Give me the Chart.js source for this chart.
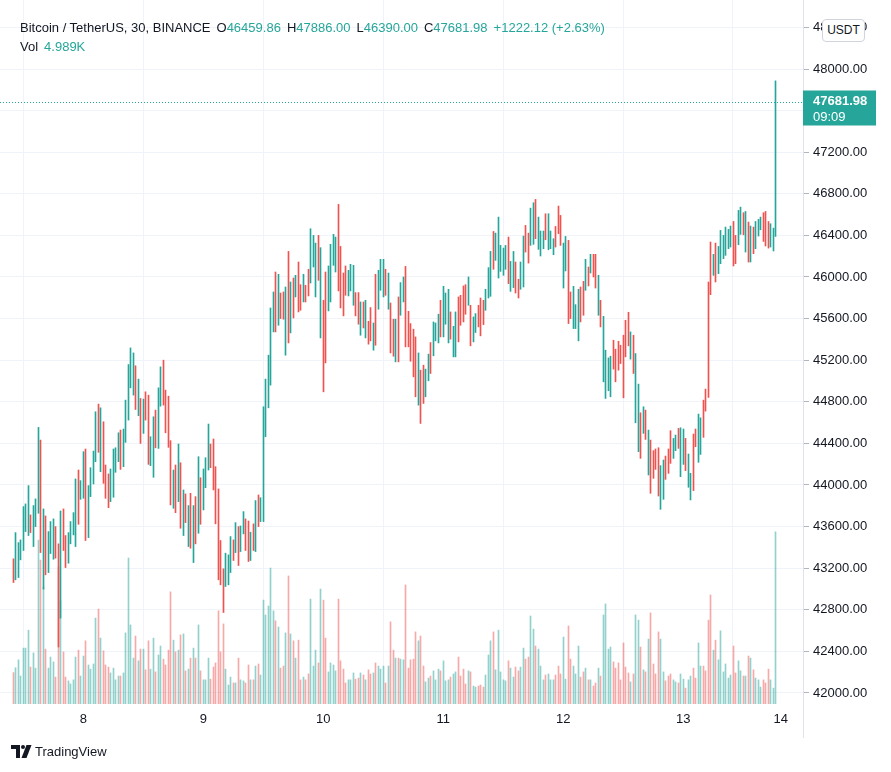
<!DOCTYPE html>
<html>
<head>
<meta charset="utf-8">
<script src="https://cdn.jsdelivr.net/npm/chart.js@4.4.0/dist/chart.umd.min.js"></script>
<style>
  html, body { margin: 0; padding: 0; background: #fff; }
  #wrap { position: relative; width: 891px; height: 772px; font-family: "Liberation Sans", Arial, sans-serif; color: #131722; overflow: hidden; }
  #chart { position: absolute; left: 0; top: 0; }
  .line { position: absolute; left: 20px; font-size: 13px; line-height: 16px; white-space: pre; }
  .up { color: #26a69a; }
  .gap { margin-left: 6px; }
  #usdt { position: absolute; left: 822px; top: 19px; width: 41px; height: 21px; border: 1px solid #d1d4dc; border-radius: 4px; background: #fff; font-size: 12px; line-height: 21px; text-align: center; }
  #brand { position: absolute; left: 35px; top: 744px; font-size: 13px; color: #131722; }
  #logo { position: absolute; left: 11px; top: 745px; }
</style>
</head>
<body>
<div id="wrap">
  <canvas id="chart" width="891" height="772"></canvas>
  <div class="line" style="top:20px">Bitcoin / TetherUS, 30, BINANCE<span class="gap">O</span><span class="up" id="vO"></span><span class="gap">H</span><span class="up" id="vH"></span><span class="gap">L</span><span class="up" id="vL"></span><span class="gap">C</span><span class="up" id="vC"></span><span class="up gap" id="vChg"></span></div>
  <div class="line" style="top:39px">Vol<span class="up gap" id="vVol"></span></div>
  <div id="usdt">USDT</div>
  <svg id="logo" width="22" height="14" viewBox="0 0 22 14">
    <path d="M0 0h9v13h-4v-9h-5z" fill="#131722"/>
    <circle cx="12" cy="2" r="2" fill="#131722"/>
    <path d="M15.5 0h5l-5 13h-5z" fill="#131722"/>
  </svg>
  <div id="brand">TradingView</div>
</div>
<script>
// BTCUSDT 30m bars, Binance. Index 0 = first bar on the left.
const lows = [
  43062,43088,43110,43280,43370,43552,43514,43542,43408,43600,
  43728,43350,42998,43136,43158,43341,43286,43296,42442,42720,
  43370,43206,43248,43434,43520,43408,43622,43862,43872,43466,
  43494,43888,44010,44224,44314,44128,44016,43872,43782,43840,
  43882,44122,44224,44150,44176,44410,44624,44934,44864,44726,
  44666,44400,44496,44624,44198,44186,44074,44358,44352,44758,
  44768,44502,44362,43808,43776,43734,43840,43584,43514,43638,
  43408,43392,43254,43434,43536,43622,43760,43974,44144,44166,
  43952,43626,43088,43040,42774,43024,43040,43158,43274,43350,
  43226,43360,43530,43370,43264,43274,43370,43360,43600,43648,
  43648,44464,44742,44960,45472,45472,45536,45600,45594,45248,
  45366,45462,45606,45808,45664,45680,45760,45760,45818,45942,
  46096,45808,45968,45414,44896,45174,45674,45760,46112,46048,
  45866,45702,45626,45824,45818,45866,45728,45626,45546,45440,
  45510,45414,45354,45386,45296,45344,45690,45872,45808,45824,
  45690,45270,45238,45184,45184,45632,45760,45328,45328,45190,
  45040,44848,44768,44592,44784,44848,45002,45072,45242,45386,
  45366,45424,45424,45546,45366,45402,45232,45232,45376,45536,
  45568,45642,45728,45338,45376,45466,45520,45434,45542,45680,
  45798,45814,46074,46160,45990,46054,46016,46074,45936,45862,
  45898,45846,45798,45882,45904,46240,46134,46304,46314,46368,
  46266,46202,46272,46358,46262,46272,46214,46288,46416,46304,
  45894,46058,45552,45600,45504,45504,45386,45568,45632,45872,
  45914,46038,46000,45894,45632,45520,44992,44832,44906,44848,
  45114,44992,45104,45168,44838,45232,45338,45210,45072,44598,
  44320,44256,44496,44438,44096,43920,44064,44150,43894,43766,
  43862,44054,44112,44208,44256,44330,44352,44080,44198,44138,
  43978,43856,43946,44368,44218,44294,44458,44710,44842,45830,
  46016,45952,46032,46128,46176,46208,46272,46288,46106,46128,
  46310,46410,46406,46240,46144,46144,46224,46272,46394,46454,
  46342,46298,46278,46288,46250,46390
];
const highs = [
  43290,43542,43446,43472,43792,43818,43994,43712,43802,43866,
  44554,44432,43770,43702,43552,43648,43674,43600,43434,43750,
  43770,43514,43542,43648,43734,44058,44144,44042,44320,44346,
  43994,44166,44326,44704,44778,44742,44608,44192,44106,44154,
  44346,44358,44502,44528,44538,44816,45158,45318,45270,45146,
  45018,44832,44826,44896,44864,44464,44656,44720,44934,45136,
  45200,44912,44854,44426,44144,44192,44394,44214,43952,43914,
  43802,43920,43802,43888,44272,44070,44154,44262,44586,44394,
  44442,44176,43962,43466,43194,43344,43328,43504,43472,43638,
  43600,43606,43744,43674,43654,43546,43626,43850,43904,43878,
  44752,45018,45248,45702,45856,46048,46026,45846,45856,45904,
  46246,45952,45990,46016,46144,45926,46026,45920,46074,46464,
  46400,46326,46400,46282,45776,46048,46106,46314,46410,46384,
  46698,46294,46038,46106,46064,46122,46112,45850,45850,45760,
  45760,45776,45574,45706,45558,46026,46064,46170,46170,46074,
  46038,45750,45594,45594,45808,45946,46000,46102,45670,45552,
  45498,45424,45270,45104,45152,45114,45258,45370,45568,45558,
  45642,45776,45910,45846,45882,45664,45526,45664,45808,45824,
  45914,45926,46000,45728,45616,45648,45728,45798,45776,45882,
  46090,46246,46438,46422,46576,46304,46278,46304,46384,46150,
  46246,46144,45978,46144,46394,46496,46422,46662,46714,46746,
  46576,46442,46442,46608,46608,46442,46368,46486,46682,46592,
  46326,46390,46352,45856,45910,45734,45882,45904,45958,46170,
  46096,46218,46218,46218,46016,45776,45622,45296,45222,45238,
  45392,45306,45382,45344,45440,45584,45661,45472,45440,45264,
  44970,44694,44752,44720,44528,44432,44330,44346,44358,44186,
  44240,44278,44346,44522,44448,44480,44544,44550,44538,44448,
  44298,44112,44490,44538,44682,44646,44816,44922,45952,46336,
  46218,46326,46294,46448,46400,46480,46458,46490,46534,46400,
  46640,46672,46618,46630,46528,46490,46480,46534,46554,46576,
  46618,46630,46534,46512,46470,47886
];
// g = close above open, r = close below open
const dirs =
  'rggggggrgg' + 'grgrgggrrg' + 'rrggggrggr' + 'ggggrgrrrg' + 'gggrgggggr' +
  'grgrrggrgg' + 'rrrrgrgrgr' + 'grgrgrgggr' + 'rrrrrgggrg' + 'rggrrgrgrg' +
  'gggggrgrrg' + 'rgrgrrgrrg' + 'ggrgrrgggg' + 'rrrrgggrrg' + 'rgrrgrgggr' +
  'grrgrggrrr' + 'rrgrrggrgg' + 'grgggrggrr' + 'rrgrggrrrg' + 'ggrgggggrg' +
  'grrggrrggr' + 'gggrgggrrr' + 'ggrrgggrrg' + 'rgrrgrggg' +
  'grrrrrrrgr' + 'ggrgrgrrrr' + 'ggrrrggrgg' + 'rggrrggrrr' + 'rgrggggggr' +
  'rggrgrgrgg' + 'grrrgggrrg' + 'rrggg';
const vols = [
  910,1050,1280,810,1620,1620,2140,1070,1480,1040,
  4750,4170,3390,1590,1040,1360,1220,780,3970,2990,
  1510,780,670,580,700,1360,1560,810,1390,1830,
  1130,1010,1160,2490,2750,1910,1540,1130,1070,900,
  1040,700,810,810,900,2060,4230,2290,1330,1970,
  1250,1590,1590,990,1830,1010,1910,930,1420,1680,
  1300,1130,1560,3250,1850,1510,1560,2000,2030,960,
  1010,1330,1620,1330,2290,960,700,700,1330,720,
  1070,1190,2700,1510,2320,1010,550,780,610,610,
  1330,700,670,610,1130,700,700,1100,1160,840,
  3010,2580,2840,3940,2700,2410,2230,1040,1100,2060,
  3710,2030,1830,1330,1850,700,780,700,870,3040,
  1100,1560,1190,3330,3010,1910,930,1190,1130,960,
  3040,1250,1010,610,700,700,900,720,750,900,
  840,700,990,870,900,1190,1100,1010,1100,610,
  1100,2380,1560,1330,1330,1300,1280,3450,1040,1280,
  1300,2090,1830,1970,1100,640,750,810,960,700,
  1010,960,1250,670,700,780,870,930,1360,810,
  1010,580,960,930,520,490,520,550,490,840,
  1420,1830,2090,990,2140,930,700,670,1250,1040,
  780,1070,960,1070,1620,1300,1360,2550,2170,1680,
  1590,1100,700,840,870,700,700,840,1100,870,
  1940,720,2260,1300,1100,870,1680,780,930,1040,
  700,700,520,610,1040,810,2580,2900,1590,1650,
  1220,1040,1190,700,1770,1070,900,640,870,2580,
  2430,1650,990,930,1880,2640,1160,870,2090,1880,
  930,670,810,870,700,640,610,870,720,460,
  700,810,1040,750,1770,1100,1100,960,2430,3160,
  1560,1850,1280,2120,930,1160,750,840,1680,900,
  1250,960,810,810,1390,1330,990,750,700,490,
  700,610,1010,700,460,4989
];
// bar index where each calendar day starts, and its label
const dayStart = [28, 76, 124, 172, 220, 268, 307];
const dayLabels = ['8', '9', '10', '11', '12', '13', '14'];
const priceTicks = [42000, 42400, 42800, 43200, 43600, 44000, 44400, 44800, 45200, 45600, 46000, 46400, 46800, 47200, 47600, 48000, 48400];
const lastOpen = 46459.86;
const lastClose = 47681.98;
const countdown = '09:09';

const GREEN = '#26a69a', RED = '#ef5350';
const VOL_GREEN = 'rgba(38,166,154,0.5)', VOL_RED = 'rgba(239,83,80,0.5)';
const FONT = '"Liberation Sans", Arial, sans-serif';
const n = highs.length;

// header legend
const fmt = v => v.toFixed(2);
const last = n - 1;
const change = lastClose - lastOpen;
document.getElementById('vO').textContent = fmt(lastOpen);
document.getElementById('vH').textContent = fmt(highs[last]);
document.getElementById('vL').textContent = fmt(lows[last]);
document.getElementById('vC').textContent = fmt(lastClose);
document.getElementById('vChg').textContent = '+' + fmt(change) + ' (+' + (change / lastOpen * 100).toFixed(2) + '%)';
document.getElementById('vVol').textContent = (vols[last] / 1000).toFixed(3) + 'K';

const dirArr = dirs.split('');
const priceData = highs.map((h, i) => ({ x: i, y: [lows[i], h] }));
const volData = vols.map((v, i) => ({ x: i, y: v }));

// keep 1px bars on whole pixels so they look sharp
const snapBars = {
  id: 'snapBars',
  afterDatasetsUpdate(chart) {
    chart.data.datasets.forEach((ds, k) => {
      chart.getDatasetMeta(k).data.forEach(el => { el.x = Math.floor(el.x) + 0.5; });
    });
  }
};

const lastPrice = {
  id: 'lastPrice',
  afterDatasetsDraw(chart) {
    const { ctx, chartArea, scales } = chart;
    const py = Math.round(scales.y.getPixelForValue(lastClose)) + 0.5;
    ctx.save();
    ctx.strokeStyle = GREEN;
    ctx.lineWidth = 1;
    ctx.setLineDash([1, 2]);
    ctx.beginPath();
    ctx.moveTo(chartArea.left, py);
    ctx.lineTo(chartArea.right, py);
    ctx.stroke();
    ctx.setLineDash([]);
    // price axis separator runs through the time axis too
    ctx.strokeStyle = '#e0e3eb';
    ctx.beginPath();
    ctx.moveTo(chartArea.right + 0.5, 0);
    ctx.lineTo(chartArea.right + 0.5, 738);
    ctx.stroke();
    // last price badge
    ctx.fillStyle = GREEN;
    ctx.fillRect(chartArea.right, py - 12, 73, 35);
    ctx.fillStyle = '#fff';
    ctx.font = 'bold 13px ' + FONT;
    ctx.textBaseline = 'middle';
    ctx.fillText(fmt(lastClose), chartArea.right + 10, py - 1);
    ctx.font = '13px ' + FONT;
    ctx.fillText(countdown, chartArea.right + 10, py + 15);
    ctx.restore();
  }
};

new Chart(document.getElementById('chart'), {
  type: 'bar',
  data: {
    datasets: [
      {
        label: 'Price',
        data: priceData,
        yAxisID: 'y',
        backgroundColor: dirArr.map(d => d === 'g' ? GREEN : RED),
        barThickness: 1,
        grouped: false,
        order: 1
      },
      {
        label: 'Volume',
        data: volData,
        yAxisID: 'yVol',
        backgroundColor: dirArr.map(d => d === 'g' ? VOL_GREEN : VOL_RED),
        barThickness: 1,
        grouped: false,
        order: 2
      }
    ]
  },
  options: {
    responsive: false,
    animation: false,
    events: [],
    layout: { padding: 0 },
    plugins: { legend: { display: false }, tooltip: { enabled: false } },
    scales: {
      x: {
        type: 'linear',
        offset: false,
        min: -5.32,
        max: 315.9,
        grid: { color: '#f0f3fa', drawTicks: false },
        border: { display: false },
        ticks: {
          padding: 8,
          color: '#131722',
          font: { family: FONT, size: 13 },
          maxRotation: 0,
          autoSkip: false,
          callback: v => dayLabels[dayStart.indexOf(v)]
        },
        afterBuildTicks: s => { s.ticks = dayStart.map(v => ({ value: v })); },
        afterFit: s => { s.height = 68; s.paddingLeft = 0; s.paddingRight = 0; }
      },
      y: {
        position: 'right',
        min: 41894,
        max: 48663.5,
        grid: { color: '#f0f3fa', tickColor: '#b2b5be', tickLength: 6 },
        border: { color: '#e0e3eb' },
        ticks: {
          padding: 4,
          color: '#131722',
          font: { family: FONT, size: 13 },
          callback: v => v.toFixed(2)
        },
        afterBuildTicks: s => { s.ticks = priceTicks.map(v => ({ value: v })); },
        afterFit: s => { s.width = 88; s.paddingTop = 0; s.paddingBottom = 0; }
      },
      yVol: { display: false, min: 0, max: 20400 }
    }
  },
  plugins: [snapBars, lastPrice]
});
</script>
</body>
</html>
